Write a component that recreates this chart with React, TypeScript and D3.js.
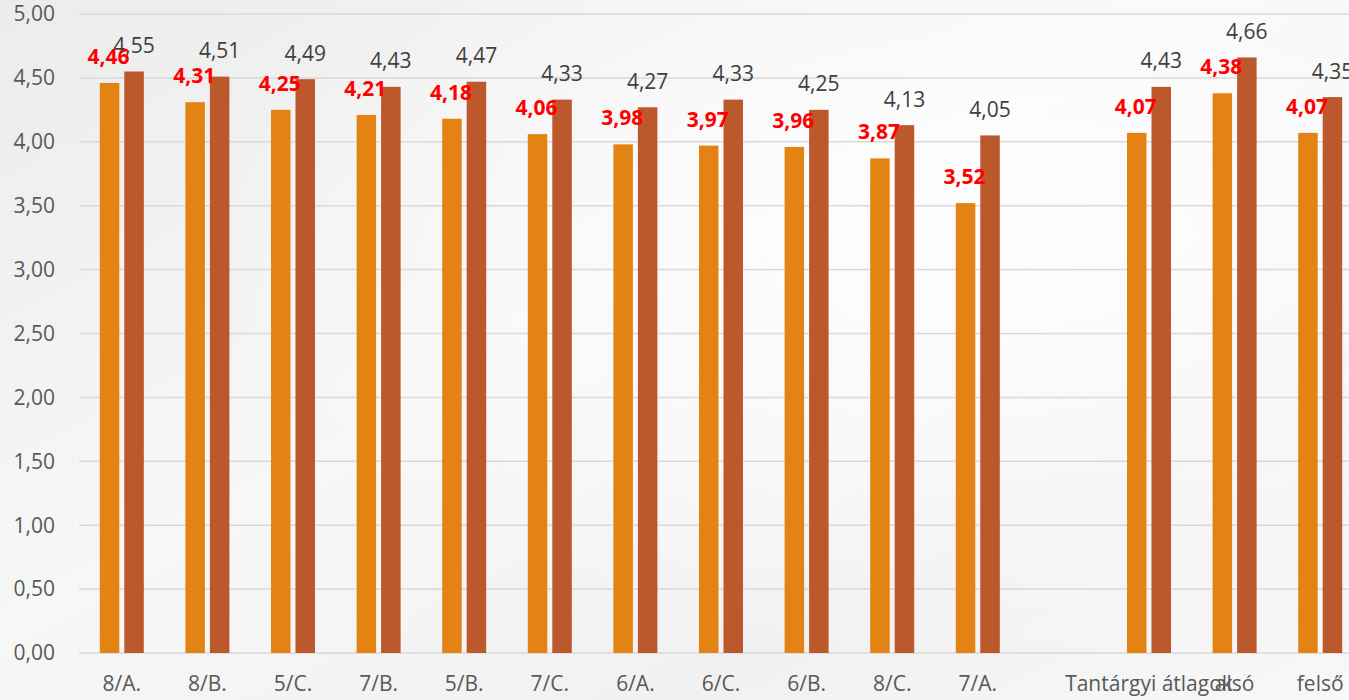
import React from "react";
import * as d3 from "d3";

const categories = ["8/A.", "8/B.", "5/C.", "7/B.", "5/B.", "7/C.", "6/A.", "6/C.", "6/B.", "8/C.", "7/A.", "", "Tantárgyi átlagok", "alsó", "felső"];
const seriesA: (number | null)[] = [4.46, 4.31, 4.25, 4.21, 4.18, 4.06, 3.98, 3.97, 3.96, 3.87, 3.52, null, 4.07, 4.38, 4.07];
const seriesB: (number | null)[] = [4.55, 4.51, 4.49, 4.43, 4.47, 4.33, 4.27, 4.33, 4.25, 4.13, 4.05, null, 4.43, 4.66, 4.35];
const yTicks = [0, 0.5, 1, 1.5, 2, 2.5, 3, 3.5, 4, 4.5, 5];

const W = 1349;
const H = 700;
const FONT = "'Open Sans', 'Noto Sans', sans-serif";

export default function App() {
  const idx = categories.map((_, i) => String(i));
  const x = d3.scaleBand().domain(idx).range([79, 79 + 15 * 85.6]).paddingInner(0).paddingOuter(0);
  const y = d3.scaleLinear().domain([0, 5]).range([653, 14]);
  const barW = 19.5;
  const gap = 5;
  const fmt = (v: number) => v.toFixed(2).replace(".", ",");

  return (
    <svg width={W} height={H} style={{ position: "absolute", left: 0, top: 0 }} fontFamily={FONT}>
      <defs>
        <linearGradient id="bg" x1="0" y1="0" x2="1" y2="1">
          <stop offset="0" stopColor="#ececec" />
          <stop offset="0.45" stopColor="#f7f7f7" />
          <stop offset="0.75" stopColor="#f1f1f1" />
          <stop offset="1" stopColor="#f8f8f8" />
        </linearGradient>
        <radialGradient id="glow" cx="0.75" cy="0.35" r="0.6">
          <stop offset="0" stopColor="#ffffff" stopOpacity="0.9" />
          <stop offset="1" stopColor="#ffffff" stopOpacity="0" />
        </radialGradient>
      </defs>
      <rect x={0} y={0} width={W} height={H} fill="url(#bg)" />
      <rect x={0} y={0} width={W} height={H} fill="url(#glow)" />
      {yTicks.map((t) => (
        <g key={t}>
          <line x1={79} x2={W} y1={y(t)} y2={y(t)} stroke="#d9d9d9" strokeWidth={1.5} />
          <text x={55} y={y(t)} dy="0.35em" textAnchor="end" fontSize={21} fill="#595959">
            {fmt(t)}
          </text>
        </g>
      ))}
      {categories.map((c, i) => {
        const cx = (x(String(i)) as number) + x.bandwidth() / 2;
        const a = seriesA[i];
        const b = seriesB[i];
        const ax = cx - gap / 2 - barW;
        const bx = cx + gap / 2;
        return (
          <g key={i}>
            {a != null && (
              <rect x={ax} y={y(a)} width={barW} height={y(0) - y(a)} fill="#E38314" />
            )}
            {b != null && (
              <rect x={bx} y={y(b)} width={barW} height={y(0) - y(b)} fill="#BB582C" />
            )}
            {b != null && (
              <text x={bx + barW / 2} y={y(b) - 18.5} textAnchor="middle" fontSize={21} fill="#404040">
                {fmt(b)}
              </text>
            )}
            {a != null && (
              <text x={ax + barW / 2 - 1} y={y(a) - 19} textAnchor="middle" fontSize={21} fontWeight="bold" fill="#FF0000">
                {fmt(a)}
              </text>
            )}
            <text x={cx} y={691} textAnchor="middle" fontSize={21} fill="#595959">
              {c}
            </text>
          </g>
        );
      })}
    </svg>
  );
}
